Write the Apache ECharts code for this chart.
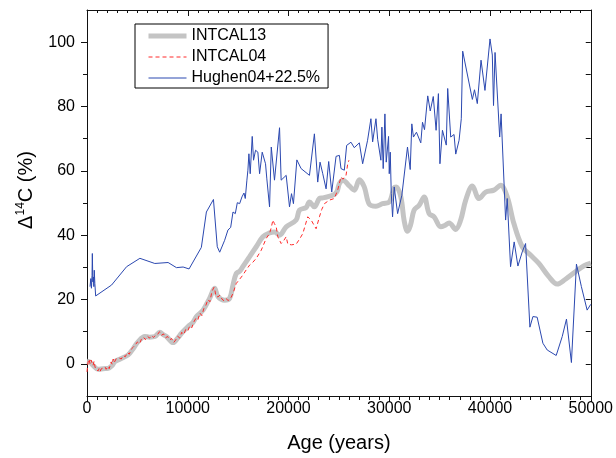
<!DOCTYPE html>
<html>
<head>
<meta charset="utf-8">
<script src="https://cdn.jsdelivr.net/npm/echarts@6/dist/echarts.min.js"></script>
<style>html,body{margin:0;padding:0;background:#fff;}#c{width:616px;height:458px;}</style>
</head>
<body>
<div id="c"></div>
<script>
const seriesNames = ['INTCAL13', 'INTCAL04', 'Hughen04+22.5%'];
const xTicks = [0, 10000, 20000, 30000, 40000, 50000];
const yLabelTicks = [0, 20, 40, 60, 80, 100];
const yMinorTicks = [10, 30, 50, 70, 90];
const yRightTicks = [0, 10, 20, 30, 40, 50, 60, 70, 80, 90, 100];

const intcal13 = [[0,0.8],[300,0.5],[600,-0.5],[1100,-1.7],[1600,-1.5],[2100,-1.4],[2500,-0.5],[2770,0.7],[3300,1.5],[4090,2.8],[4600,4.8],[5080,6.9],[5740,8.5],[6200,8.3],[6730,8.5],[7230,9.8],[7600,9],[7890,8.5],[8550,6.6],[9000,8],[9380,9.5],[10030,11.6],[10500,12.8],[10860,14.7],[11520,16.7],[12180,20.4],[12670,23.5],[13000,20.9],[13660,19.8],[14160,20.4],[14490,24.5],[14820,28.1],[15150,28.8],[15470,30.2],[16140,33.3],[16800,36.4],[17460,39.5],[18120,40.7],[18610,41],[19110,40],[19770,42.6],[20760,44.7],[21090,47.8],[21750,48.6],[22080,50.3],[22570,48.8],[23070,51.4],[23400,51.6],[24390,52.4],[24800,53.5],[25050,56],[25400,57.1],[26040,55.3],[26530,54],[27030,57.2],[27520,55],[28020,49.6],[28680,49],[29340,49.8],[30000,50.3],[30490,54.8],[30700,55],[31150,51.9],[31480,44.5],[31810,41.2],[32100,43],[32470,47.8],[32970,49.3],[33460,51.9],[33960,46.7],[34450,45.7],[35110,42.6],[35500,43],[35940,43.8],[36600,41.8],[37090,44.7],[37590,50.9],[38250,55.3],[38910,51.4],[39570,53.4],[40390,54],[41050,55.5],[41710,51.9],[42370,43.6],[43200,36.4],[44020,33.8],[44850,31.2],[45840,27.1],[46660,24.8],[47490,26.3],[48480,28.6],[49300,30.4],[50000,31.3]];

const intcal04 = [[0,-2.5],[100,0.5],[200,1.5],[300,0],[400,1.2],[500,0.3],[600,-0.5],[700,0.8],[800,-1],[900,-1.8],[1000,-1.2],[1100,-2.2],[1200,-1.5],[1300,-2.4],[1400,-1.6],[1500,-2],[1600,-1.3],[1700,-1.9],[1800,-1],[1900,-1.7],[2000,-1.2],[2100,-0.8],[2200,-1.5],[2300,-0.5],[2400,0.6],[2500,-0.2],[2600,1.5],[2700,0.4],[2800,0.8],[2900,1.6],[3000,1],[3200,1.8],[3400,1.5],[3600,2.6],[3800,2.2],[4000,3.5],[4200,3],[4400,4.6],[4600,5.2],[4800,5.9],[5000,6.8],[5200,6.2],[5400,7.6],[5600,8.3],[5800,7.5],[6000,8.6],[6200,8],[6400,8.8],[6600,8.2],[6800,8.9],[7000,9.1],[7200,10],[7400,8.9],[7600,9.3],[7800,8.1],[8000,8.5],[8200,7.4],[8400,7.9],[8600,6.6],[8800,7.4],[9000,8.6],[9200,8],[9400,9.8],[9600,9.1],[9800,10.7],[10000,10.2],[10200,11.8],[10400,11.2],[10600,13],[10800,14.1],[11000,13.6],[11200,15.8],[11400,15],[11600,17.2],[11800,18.2],[12000,20],[12200,19.3],[12400,22.5],[12600,23.8],[12700,22.8],[12800,21],[13000,20.8],[13200,21.4],[13400,20.1],[13600,19.6],[13800,20.3],[14000,19.7],[14200,20],[14490,21.9],[14820,25],[15150,26.3],[15470,27.6],[15800,29.2],[16140,30.7],[16470,31.6],[16800,32.8],[17290,35.3],[17790,39],[18120,40.5],[18300,42.5],[18450,44.7],[18600,43.6],[18780,42.6],[18940,39.5],[19270,37.4],[19500,38.2],[19770,39.5],[19930,37.2],[20300,37],[20760,37.2],[21100,38.8],[21420,40.5],[21700,43.5],[21910,45.7],[22250,44.7],[22500,43.3],[22740,42],[23070,45.7],[23300,48],[23570,49.8],[24060,50.9],[24550,51.4],[24880,54],[25210,58.1],[25400,57.4],[25540,57.1],[25710,58.6],[25870,62],[26000,63.3]];

const hughen04 = [[300,24],[380,26.5],[440,23.5],[500,27.5],[530,34.3],[580,25.5],[630,27],[680,24],[720,29.1],[780,25],[860,21.1],[2440,24.5],[3930,30.2],[5250,32.8],[6730,31.2],[8050,31.5],[8880,29.9],[9540,30.1],[10130,29.5],[11350,36.2],[11850,47.2],[12550,51.1],[12930,36.4],[13170,34.7],[13660,38.4],[13990,41.6],[14260,42.4],[14490,47.2],[14720,46.7],[14920,50.1],[15150,49.8],[15380,51.9],[15580,53.1],[15710,51.4],[15870,57.1],[15970,60.2],[16070,65.3],[16200,59.1],[16400,70.7],[16530,63.3],[16730,66.4],[16960,65.8],[17130,59.1],[17390,65.8],[17720,62.2],[17850,57.5],[18120,48.8],[18290,67.4],[18610,57.1],[19110,73.4],[19270,57.1],[19770,58.6],[20100,48.8],[20300,52.9],[20490,49.8],[20830,63.4],[21250,60.7],[21420,60.2],[22080,58.6],[22570,71.5],[22900,56.5],[23130,62.7],[23400,59.1],[23730,54.4],[23990,62.9],[24290,53.4],[24720,64.5],[25050,64.8],[25210,60.7],[25540,60.2],[25770,67.9],[26200,68.9],[26530,67.2],[27030,68.7],[27360,62.2],[27850,69.5],[28180,76.2],[28350,69],[28680,76.2],[28850,69.8],[29170,63.3],[29270,73.6],[29400,60.7],[29570,77.7],[29700,62.7],[29930,70.7],[30000,59.1],[30100,65.8],[30200,52.9],[30330,45.7],[30490,55],[30830,46.7],[31250,52.4],[31810,67.4],[32080,60.4],[32240,74.6],[32400,70.5],[32700,72],[33130,68.7],[33300,75.1],[33500,72.8],[33820,83.3],[34070,78.6],[34370,83.1],[34650,72.6],[34880,84],[35030,62.2],[35280,72.6],[35660,68],[35800,85.6],[36100,70.5],[36430,71.3],[36600,65.2],[36930,69.5],[37150,76.2],[37290,97.2],[38250,82.2],[38460,85.2],[38740,80.9],[39110,94.4],[39500,85],[40000,101],[40230,96],[40350,80.3],[40500,96.8],[40960,70.5],[41100,77.7],[41550,44.7],[41710,51.4],[42040,30.2],[42400,37.9],[42770,30.4],[43200,34.8],[43530,37.4],[43960,11.4],[44260,14.7],[44680,14.5],[45250,6.4],[45680,4.3],[46570,2.6],[47170,8.5],[47590,13.9],[48080,0.4],[48580,31],[49070,24],[49640,16.7],[50000,18.5]];

const FONT = "'Liberation Sans', Arial, Helvetica, sans-serif";
const AX = '#111';
const C13 = '#c4c4c4', C04 = '#ff2a2a', CH = '#2b48b0';
const chart = echarts.init(document.getElementById('c'), null, {renderer: 'canvas'});

const yBase = {type: 'value', min: -10, max: 110, interval: 10, splitLine: {show: false}};
const xBase = {type: 'value', min: 0, max: 50000, interval: 10000, splitLine: {show: false}};

chart.setOption({
  animation: false,
  backgroundColor: '#fff',
  grid: {left: 87, right: 24, top: 10, bottom: 62, containLabel: false},
  legend: {
    orient: 'vertical', left: 135, top: 24,
    data: [
      {name: seriesNames[0], lineStyle: {color: C13, width: 5}},
      {name: seriesNames[1], lineStyle: {color: C04, width: 1, type: [4, 3]}},
      {name: seriesNames[2], lineStyle: {color: CH, width: 1}}
    ],
    itemStyle: {opacity: 0},
    backgroundColor: '#fff', borderColor: '#000', borderWidth: 1, borderRadius: 0,
    padding: [4, 8, 2, 11], itemGap: 5, itemWidth: 38, itemHeight: 14,
    textStyle: {fontFamily: FONT, fontSize: 16, color: '#000', lineHeight: 16}
  },
  xAxis: [
    Object.assign({}, xBase, {
      position: 'bottom',
      name: 'Age (years)', nameLocation: 'middle', nameGap: 37,
      nameTextStyle: {fontFamily: FONT, fontSize: 20, color: '#000'},
      axisLine: {onZero: false, lineStyle: {color: AX, width: 1}},
      axisTick: {inside: false, length: 6, lineStyle: {color: AX}, customValues: xTicks},
      minorTick: {show: true, splitNumber: 10, length: 4, lineStyle: {color: AX}},
      axisLabel: {fontFamily: FONT, fontSize: 16, color: '#000', margin: 5, customValues: xTicks,
        formatter: function (v) { return String(v); }}
    }),
    Object.assign({}, xBase, {
      position: 'top',
      axisLine: {onZero: false, lineStyle: {color: AX, width: 1}},
      axisTick: {inside: true, length: 6, lineStyle: {color: AX}},
      minorTick: {show: true, splitNumber: 10, length: 3, lineStyle: {color: AX}},
      axisLabel: {show: false}
    })
  ],
  yAxis: [
    Object.assign({}, yBase, {
      position: 'left',
      name: '{d|Δ}{s|14}{c|C (%)}', nameLocation: 'middle', nameGap: 50, nameRotate: 90,
      nameTextStyle: {fontFamily: FONT, color: '#000', padding: [0, 0, 0, 26],
        rich: {
          d: {fontFamily: FONT, fontSize: 20, color: '#000', lineHeight: 22},
          s: {fontFamily: FONT, fontSize: 12, color: '#000', verticalAlign: 'top', lineHeight: 12},
          c: {fontFamily: FONT, fontSize: 20, color: '#000', lineHeight: 22}
        }},
      axisLine: {onZero: false, lineStyle: {color: AX, width: 1}},
      axisTick: {inside: false, length: 6, lineStyle: {color: AX}, customValues: yLabelTicks},
      axisLabel: {fontFamily: FONT, fontSize: 16, color: '#000', margin: 12, customValues: yLabelTicks}
    }),
    Object.assign({}, yBase, {
      position: 'left',
      axisLine: {show: false, onZero: false},
      axisTick: {inside: false, length: 4, lineStyle: {color: AX}, customValues: yMinorTicks},
      axisLabel: {show: false}
    }),
    Object.assign({}, yBase, {
      position: 'right',
      axisLine: {onZero: false, lineStyle: {color: AX, width: 1}},
      axisTick: {inside: true, length: 5, lineStyle: {color: AX}, customValues: yRightTicks},
      axisLabel: {show: false}
    })
  ],
  series: [
    {name: seriesNames[0], type: 'line', data: intcal13, symbol: 'none', smooth: 0.35, z: 2,
      lineStyle: {color: C13, width: 5}, itemStyle: {color: C13}},
    {name: seriesNames[1], type: 'line', data: intcal04, symbol: 'none', z: 3,
      lineStyle: {color: C04, width: 1, type: [4, 3]}, itemStyle: {color: C04}},
    {name: seriesNames[2], type: 'line', data: hughen04, symbol: 'none', z: 4,
      lineStyle: {color: CH, width: 1}, itemStyle: {color: CH}}
  ]
});
</script>
</body>
</html>
